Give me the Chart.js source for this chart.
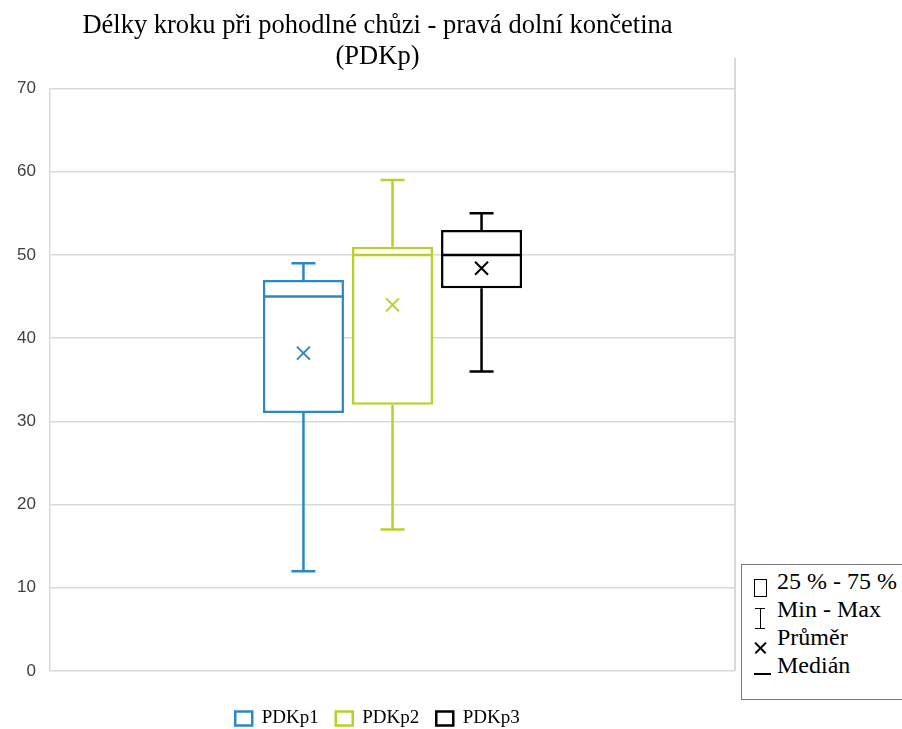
<!DOCTYPE html>
<html lang="cs">
<head>
<meta charset="utf-8">
<title>Délky kroku při pohodlné chůzi – PDKp</title>
<script src="https://cdn.jsdelivr.net/npm/chart.js@4.4.1/dist/chart.umd.min.js"></script>
<style>
  html, body { margin: 0; padding: 0; background: #fff; }
  #wrap { position: relative; width: 902px; height: 729px; overflow: hidden; }
  #chartBox { position: absolute; left: 0; top: 0; width: 755px; height: 738px; }
  #key {
    position: absolute; left: 741px; top: 564px; width: 175px; height: 136px;
    box-sizing: border-box; border: 1.5px solid #7a7a7a; background: #fff;
    font-family: 'Liberation Serif', 'Times New Roman', serif; font-size: 24px; color: #000;
    padding-top: 2px;
  }
  .row { display: flex; align-items: center; height: 28px; }
  .sym { position: relative; width: 35px; height: 28px; flex: none; }
  .sym .rect { position: absolute; left: 12px; top: 12px; width: 11px; height: 16px; border: 1.5px solid #000; }
  .sym .beam { position: absolute; left: 13px; top: 13px; width: 10px; height: 19px; border-top: 1.5px solid #000; border-bottom: 1.5px solid #000; }
  .sym .beam::before { content: ''; position: absolute; left: 4.5px; top: 0; width: 1.5px; height: 19px; background: #000; }
  .sym .cross { position: absolute; left: 12px; top: 18px; width: 13px; height: 13px; }
  .sym .cross::before, .sym .cross::after {
    content: ''; position: absolute; left: -1px; top: 6px; width: 15px; height: 1.5px; background: #000;
  }
  .sym .cross::before { transform: rotate(45deg); }
  .sym .cross::after { transform: rotate(-45deg); }
  .sym .dash { position: absolute; left: 12px; top: 22px; width: 17px; height: 1.5px; background: #000; }
</style>
</head>
<body>
<div id="wrap">
  <div id="chartBox"><canvas id="stepChart"></canvas></div>
  <div id="key">
    <div class="row"><span class="sym"><span class="rect"></span></span><span>25 % - 75 %</span></div>
    <div class="row"><span class="sym"><span class="beam"></span></span><span>Min - Max</span></div>
    <div class="row"><span class="sym"><span class="cross"></span></span><span>Průměr</span></div>
    <div class="row"><span class="sym"><span class="dash"></span></span><span>Medián</span></div>
  </div>
</div>
<script>
// Step length statistics per measurement
const seriesNames = ['PDKp1', 'PDKp2', 'PDKp3'];
const minVals = [12, 17, 36];
const q1Vals = [31, 32, 46];
const medianVals = [45, 50, 50];
const q3Vals = [47, 51, 53];
const maxVals = [49, 59, 55];
const meanVals = [38.2, 44.0, 48.4];
const seriesColors = ['#2B88C8', '#BACF2A', '#000000'];
const yTicks = [0, 10, 20, 30, 40, 50, 60, 70];

const ctx = document.getElementById('stepChart').getContext('2d');

// whiskers, caps, median line and mean cross on top of the floating bars
const boxExtras = {
    id: 'boxExtras',
    afterDatasetsDraw(chart) {
        const c = chart.ctx;
        const y = chart.scales.y;
        const area = chart.chartArea;

        // right frame line of the plot
        c.save();
        c.strokeStyle = '#d9d9d9';
        c.lineWidth = 2;
        c.beginPath();
        c.moveTo(area.right, area.top - 31);
        c.lineTo(area.right, area.bottom);
        c.stroke();
        c.restore();

        chart.data.datasets.forEach((ds, i) => {
            const bar = chart.getDatasetMeta(i).data[0];
            const cx = bar.x;
            const half = bar.width / 2;
            const cap = 12;
            c.save();
            c.strokeStyle = seriesColors[i];
            c.lineWidth = 2.5;
            c.beginPath();
            // upper whisker
            c.moveTo(cx, y.getPixelForValue(q3Vals[i]));
            c.lineTo(cx, y.getPixelForValue(maxVals[i]));
            c.moveTo(cx - cap, y.getPixelForValue(maxVals[i]));
            c.lineTo(cx + cap, y.getPixelForValue(maxVals[i]));
            // lower whisker
            c.moveTo(cx, y.getPixelForValue(q1Vals[i]));
            c.lineTo(cx, y.getPixelForValue(minVals[i]));
            c.moveTo(cx - cap, y.getPixelForValue(minVals[i]));
            c.lineTo(cx + cap, y.getPixelForValue(minVals[i]));
            // median
            c.moveTo(cx - half, y.getPixelForValue(medianVals[i]));
            c.lineTo(cx + half, y.getPixelForValue(medianVals[i]));
            c.stroke();
            // mean
            const my = y.getPixelForValue(meanVals[i]);
            const s = 6.5;
            c.lineWidth = 2;
            c.beginPath();
            c.moveTo(cx - s, my - s);
            c.lineTo(cx + s, my + s);
            c.moveTo(cx + s, my - s);
            c.lineTo(cx - s, my + s);
            c.stroke();
            c.restore();
        });
    }
};

const chart = new Chart(ctx, {
    type: 'bar',
    data: {
        labels: ['PDKp'],
        datasets: seriesNames.map((name, i) => ({
            label: name,
            data: [[q1Vals[i], q3Vals[i]]],
            backgroundColor: '#ffffff',
            borderColor: seriesColors[i],
            borderWidth: 2.5,
            borderSkipped: false,
            barPercentage: 0.91,
            categoryPercentage: 0.39
        }))
    },
    options: {
        responsive: true,
        maintainAspectRatio: false,
        animation: false,
        layout: { padding: 0 },
        scales: {
            x: {
                display: true,
                ticks: { display: false },
                grid: { display: false },
                border: { display: false },
                afterFit: (scale) => { scale.height = 21; }
            },
            y: {
                min: 0,
                max: 70,
                afterBuildTicks: (scale) => { scale.ticks = yTicks.map(v => ({ value: v })); },
                afterFit: (scale) => { scale.width = 50; },
                ticks: {
                    padding: 14,
                    color: '#404040',
                    font: { family: 'Liberation Sans', size: 17 }
                },
                grid: { color: '#d9d9d9', lineWidth: 1.5, drawTicks: false },
                border: { color: '#d9d9d9', width: 1.5 }
            },
            // empty spacer on the right so the title stays centred on the canvas
            yRight: {
                position: 'right',
                display: true,
                min: 0,
                max: 70,
                ticks: { display: false },
                grid: { display: false },
                border: { display: false },
                afterFit: (scale) => { scale.width = 20; }
            }
        },
        plugins: {
            title: {
                display: true,
                text: ['Délky kroku při pohodlné chůzi - pravá dolní končetina', '(PDKp)'],
                color: '#000',
                font: { family: 'Liberation Serif', size: 26.5, weight: 'normal', lineHeight: 1.18 },
                padding: { top: 10, bottom: 16 }
            },
            legend: {
                position: 'bottom',
                labels: {
                    boxWidth: 17,
                    boxHeight: 14,
                    color: '#000',
                    padding: 17,
                    font: { family: 'Liberation Serif', size: 19 }
                }
            },
            tooltip: { enabled: false }
        }
    },
    plugins: [boxExtras]
});
</script>
</body>
</html>
